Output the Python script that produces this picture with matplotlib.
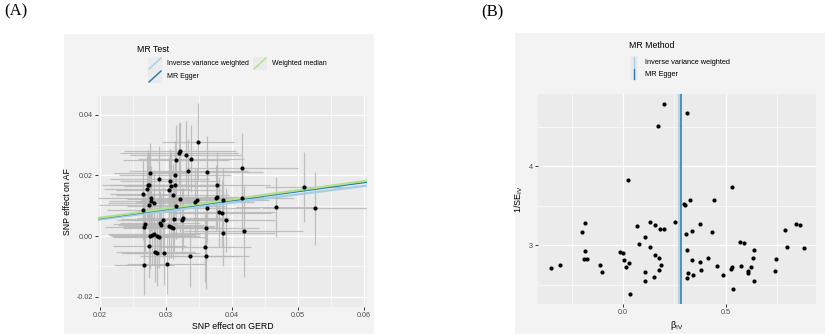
import matplotlib
matplotlib.use('Agg')
import matplotlib.pyplot as plt
from matplotlib.patches import Rectangle
import numpy as np

plt.rcParams['font.family'] = ['Liberation Sans', 'DejaVu Sans']

# (A) scatter: SNP effects on GERD (x) and AF (y)
bx = [0.0265, 0.0266, 0.0267, 0.0269, 0.0267, 0.0271, 0.0273, 0.0275, 0.0276, 0.0274,
      0.0277, 0.0278, 0.0282, 0.0275, 0.0276, 0.0279, 0.0282, 0.0284, 0.0287, 0.0287,
      0.0289, 0.0290, 0.0291, 0.0293, 0.0296, 0.0297, 0.0301, 0.0304, 0.0306, 0.0307,
      0.0310, 0.0305, 0.0308, 0.0310, 0.0312, 0.0314, 0.0314, 0.0315, 0.0316, 0.0320,
      0.0322, 0.0321, 0.0324, 0.0326, 0.0331, 0.0334, 0.0338, 0.0336, 0.0344, 0.0347,
      0.0349, 0.0361, 0.0359, 0.0361, 0.0363, 0.0363, 0.0376, 0.0377, 0.0378, 0.0381,
      0.0385, 0.0386, 0.0386, 0.0391, 0.0416, 0.0415, 0.0418, 0.0467, 0.0510, 0.0526]
by = [0.0140, 0.0087, 0.0029, 0.0041, -0.0095, 0.0156, 0.0168, 0.0170, 0.0207, 0.0101,
      0.0126, 0.0116, 0.0108, -0.0032, 0.0001, 0.0004, 0.0008, -0.0052, -0.0055, -0.0001,
      -0.0004, 0.0187, 0.0044, 0.0037, 0.0053, -0.0055, -0.0091, 0.0151, 0.0182, 0.0166,
      0.0137, 0.0033, 0.0031, 0.0025, 0.0056, 0.0202, 0.0169, 0.0251, 0.0100, 0.0273,
      0.0280, 0.0122, 0.0053, 0.0058, 0.0268, 0.0214, 0.0255, -0.0067, 0.0111, 0.0119,
      0.0311, 0.0027, -0.0036, -0.0066, 0.0211, 0.0093, 0.0126, 0.0130, 0.0168, 0.0079,
      0.0075, 0.0120, 0.0011, 0.0052, 0.0224, 0.0125, 0.0016, 0.0096, 0.0162, 0.0092]
se_x = [0.0050, 0.0055, 0.0060, 0.0050, 0.0045, 0.0065, 0.0070, 0.0060, 0.0055, 0.0075,
        0.0080, 0.0065, 0.0070, 0.0055, 0.0060, 0.0065, 0.0070, 0.0060, 0.0055, 0.0065,
        0.0070, 0.0075, 0.0060, 0.0065, 0.0070, 0.0055, 0.0060, 0.0080, 0.0075, 0.0070,
        0.0085, 0.0070, 0.0065, 0.0075, 0.0080, 0.0085, 0.0070, 0.0080, 0.0075, 0.0090,
        0.0085, 0.0080, 0.0075, 0.0070, 0.0085, 0.0090, 0.0080, 0.0075, 0.0090, 0.0085,
        0.0055, 0.0080, 0.0070, 0.0065, 0.0085, 0.0080, 0.0075, 0.0070, 0.0080, 0.0085,
        0.0075, 0.0070, 0.0080, 0.0075, 0.0085, 0.0080, 0.0090, 0.0060, 0.0060, 0.0080]
se_y = [0.0110, 0.0100, 0.0105, 0.0095, 0.0100, 0.0110, 0.0115, 0.0105, 0.0100, 0.0110,
        0.0105, 0.0100, 0.0110, 0.0105, 0.0110, 0.0100, 0.0105, 0.0100, 0.0110, 0.0105,
        0.0100, 0.0110, 0.0105, 0.0100, 0.0110, 0.0105, 0.0100, 0.0110, 0.0105, 0.0110,
        0.0100, 0.0110, 0.0105, 0.0100, 0.0105, 0.0110, 0.0100, 0.0115, 0.0110, 0.0100,
        0.0095, 0.0110, 0.0105, 0.0100, 0.0110, 0.0105, 0.0110, 0.0100, 0.0110, 0.0105,
        0.0127, 0.0110, 0.0115, 0.0110, 0.0120, 0.0115, 0.0110, 0.0105, 0.0110, 0.0115,
        0.0110, 0.0105, 0.0110, 0.0105, 0.0115, 0.0110, 0.0150, 0.0100, 0.0115, 0.0120]

methods = ['Inverse variance weighted', 'MR Egger', 'Weighted median']
method_colors = ['#a6cee3', '#1f78b4', '#b2df8a']
slopes = [0.275, 0.296, 0.302]
intercepts = [0.0, -0.0001, 0.0]

# (B) funnel: per-SNP Wald ratio and precision
b_iv = [-0.353, -0.306, -0.200, -0.184, -0.187, -0.193, -0.174, -0.114, -0.103, -0.016,
        -0.001, 0.005, 0.015, 0.028, 0.026, 0.036, 0.070, 0.080, 0.105, 0.105,
        0.105, 0.129, 0.129, 0.157, 0.155, 0.150, 0.174, 0.173, 0.178, 0.200,
        0.187, 0.171, 0.200, 0.253, 0.310, 0.297, 0.303, 0.306, 0.314, 0.313,
        0.319, 0.327, 0.336, 0.376, 0.337, 0.373, 0.381, 0.340, 0.414, 0.442,
        0.435, 0.456, 0.489, 0.529, 0.529, 0.528, 0.534, 0.572, 0.588, 0.573,
        0.608, 0.609, 0.624, 0.637, 0.635, 0.637, 0.741, 0.747, 0.790, 0.801,
        0.842, 0.865, 0.883]
inv_se = [2.709, 2.742, 3.16, 3.28, 2.93, 2.82, 2.82, 2.75, 2.66, 2.915,
          2.90, 2.81, 2.72, 2.77, 3.82, 2.375, 3.24, 3.016, 3.096, 2.66,
          2.55, 3.295, 2.97, 3.25, 2.88, 2.60, 2.83, 2.69, 3.20, 3.20,
          2.75, 4.51, 4.79, 3.29, 4.675, 3.52, 3.506, 3.134, 2.94, 2.586,
          2.645, 3.573, 3.18, 3.27, 2.81, 2.78, 2.68, 2.615, 2.84, 3.57,
          3.16, 2.73, 2.624, 3.73, 2.716, 2.696, 2.44, 3.04, 3.03, 2.73,
          2.675, 2.64, 2.72, 2.94, 2.84, 2.545, 2.675, 2.82, 3.19, 2.97,
          3.27, 3.25, 2.957]
funnel_methods = ['Inverse variance weighted', 'MR Egger']
funnel_colors = ['#a6cee3', '#1f78b4']
funnel_b = [0.274, 0.282]

W, H = 825, 334
fig = plt.figure(figsize=(W / 100, H / 100), dpi=100)

# overlay in pixel coords for backgrounds, legends, panel letters
bg = fig.add_axes([0, 0, 1, 1], zorder=0)
bg.set_xlim(0, W)
bg.set_ylim(H, 0)
bg.axis('off')
bg.add_patch(Rectangle((64, 34), 310, 300, color='#f3f3f3', lw=0))
bg.add_patch(Rectangle((515, 33), 310, 301, color='#f3f3f3', lw=0))
bg.text(4, 11, '(A)', family='Liberation Serif', fontsize=12, va='center', ha='left')
bg.text(481, 12, '(B)', family='Liberation Serif', fontsize=12, va='center', ha='left')


def ggstyle(ax):
    ax.set_facecolor('#ebebeb')
    for s in ax.spines.values():
        s.set_visible(False)
    ax.grid(which='major', color='white', lw=0.9)
    ax.grid(which='minor', color='white', lw=0.45)
    ax.set_axisbelow(True)
    ax.tick_params(which='major', length=2.2, width=0.7, color='#333333',
                   labelsize=5.2, labelcolor='#4d4d4d', pad=1.5)
    ax.tick_params(which='minor', length=0)


def px_axes(x0, y0, x1, y1):
    return fig.add_axes([x0 / W, 1 - y1 / H, (x1 - x0) / W, (y1 - y0) / H], zorder=1)


# ---- (A) scatter plot ----
ax1 = px_axes(98, 96, 367, 307)
ggstyle(ax1)
ax1.errorbar(bx, by, xerr=se_x, fmt='none', ecolor='#b8b8b8', elinewidth=0.9, alpha=0.85, zorder=2)
ax1.errorbar(bx, by, yerr=se_y, fmt='none', ecolor='#b8b8b8', elinewidth=0.9, alpha=0.85, zorder=2)
xl = np.array([0.0197, 0.0605])
for m, c, s, b in zip(methods, method_colors, slopes, intercepts):
    lw = 1.2 if m == 'MR Egger' else 1.6
    ax1.plot(xl, b + s * xl, color=c, lw=lw, zorder=3)
ax1.scatter(bx, by, s=9, color='black', zorder=4, lw=0)
ax1.set_xlim(xl)
ax1.set_ylim(-0.0234, 0.0462)
ax1.set_xticks([0.02, 0.03, 0.04, 0.05, 0.06])
ax1.set_xticklabels(['0.02', '0.03', '0.04', '0.05', '0.06'])
ax1.set_xticks([0.025, 0.035, 0.045, 0.055], minor=True)
ax1.set_yticks([-0.02, 0.0, 0.02, 0.04])
ax1.set_yticklabels(['-0.02', '0.00', '0.02', '0.04'])
ax1.set_yticks([-0.01, 0.01, 0.03], minor=True)
ax1.set_xlabel('SNP effect on GERD', fontsize=6.3, labelpad=2)
ax1.set_ylabel('SNP effect on AF', fontsize=6.3, labelpad=3)

# legend (A)
bg.text(137, 49, 'MR Test', fontsize=6.3, va='center', ha='left')
key_pos = [(148, 57), (148, 70), (253, 57)]
for (kx, ky), m, c in zip(key_pos, methods, method_colors):
    bg.add_patch(Rectangle((kx, ky), 14, 13, color='#ebebeb', lw=0))
    bg.plot([kx + 1, kx + 13], [ky + 12, ky + 1], color=c, lw=1.0)
    bg.text(kx + 19, ky + 6.5, m, fontsize=5.0, va='center', ha='left')

# ---- (B) funnel plot ----
ax2 = px_axes(538, 94, 816, 304)
ggstyle(ax2)
for m, c, b in zip(funnel_methods, funnel_colors, funnel_b):
    ax2.axvline(b, color=c, lw=1.1, zorder=2)
ax2.scatter(b_iv, inv_se, s=9, color='black', zorder=3, lw=0)
ax2.set_xlim(-0.415, 0.941)
ax2.set_ylim(2.253, 4.915)
ax2.set_xticks([0.0, 0.5])
ax2.set_xticklabels(['0.0', '0.5'])
ax2.set_xticks([-0.25, 0.25, 0.75], minor=True)
ax2.set_yticks([3, 4])
ax2.set_yticks([2.5, 3.5, 4.5], minor=True)
ax2.set_xlabel(r'$\mathregular{\beta_{IV}}$', fontsize=6.5, labelpad=2)
ax2.set_ylabel(r'$\mathregular{1/SE_{IV}}$', fontsize=6.5, labelpad=3)

# legend (B)
bg.text(629, 45, 'MR Method', fontsize=6.3, va='center', ha='left')
for i, (m, c) in enumerate(zip(funnel_methods, funnel_colors)):
    ky = 56 + i * 12
    bg.add_patch(Rectangle((630, ky), 8, 12, color='#ebebeb', lw=0))
    bg.plot([634, 634], [ky + 1, ky + 11], color=c, lw=1.0)
    bg.text(645, ky + 6, m, fontsize=5.3, va='center', ha='left')

fig.savefig('out.png', dpi=100)
